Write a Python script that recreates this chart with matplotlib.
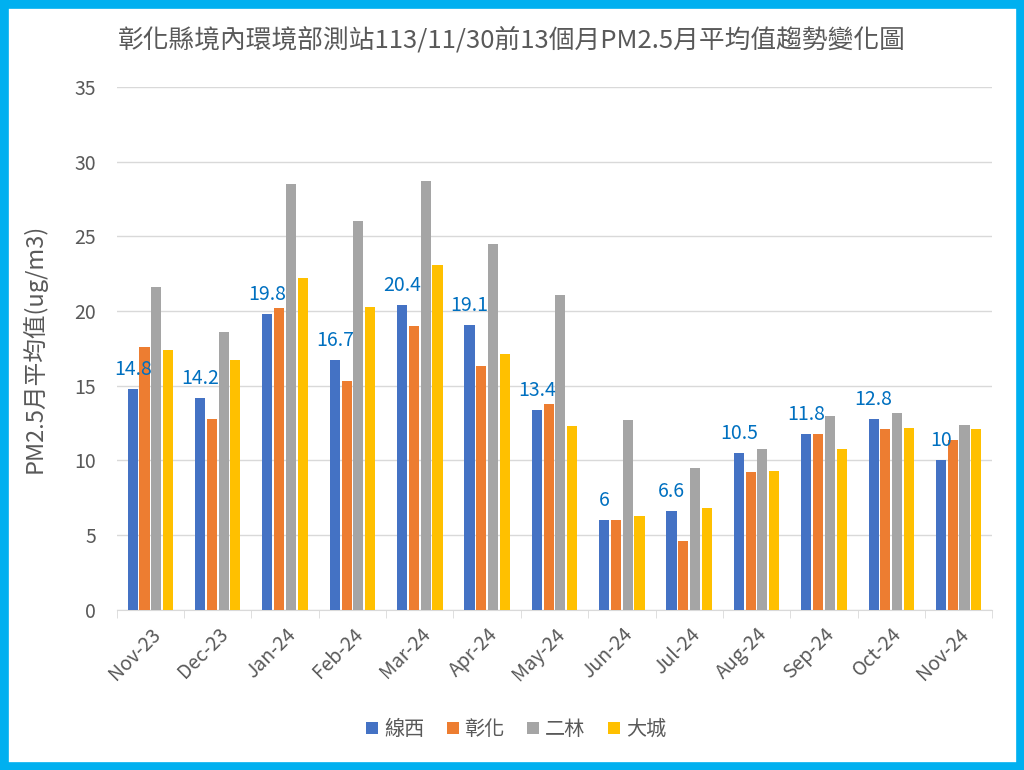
import matplotlib
matplotlib.use('Agg')
import matplotlib.pyplot as plt
import numpy as np
from matplotlib.patches import Rectangle

plt.rcParams['font.family'] = ['Noto Sans CJK TC', 'DejaVu Sans']

months = ['Nov-23', 'Dec-23', 'Jan-24', 'Feb-24', 'Mar-24', 'Apr-24', 'May-24',
          'Jun-24', 'Jul-24', 'Aug-24', 'Sep-24', 'Oct-24', 'Nov-24']
xianxi = [14.8, 14.2, 19.8, 16.7, 20.4, 19.1, 13.4, 6, 6.6, 10.5, 11.8, 12.8, 10]
changhua = [17.6, 12.8, 20.2, 15.3, 19.0, 16.3, 13.8, 6.0, 4.6, 9.2, 11.8, 12.1, 11.4]
erlin = [21.6, 18.6, 28.5, 26.0, 28.7, 24.5, 21.1, 12.7, 9.5, 10.8, 13.0, 13.2, 12.4]
dacheng = [17.4, 16.7, 22.2, 20.3, 23.1, 17.1, 12.3, 6.3, 6.8, 9.3, 10.8, 12.2, 12.1]

names = ['線西', '彰化', '二林', '大城']
colors = ['#4472C4', '#ED7D31', '#A5A5A5', '#FFC000']
series = [xianxi, changhua, erlin, dacheng]

text_grey = '#595959'

fig = plt.figure(figsize=(10.24, 7.70), dpi=100)
ax = fig.add_axes([0.114, 0.208, 0.855, 0.679])

x = np.arange(len(months))
slot = 0.175
w = 0.15
for i, (vals, c, n) in enumerate(zip(series, colors, names)):
    ax.bar(x + (i - 1.5) * slot, vals, width=w, color=c, label=n, zorder=3)

# data labels on 線西 only
for xi, v in zip(x, xianxi):
    ax.text(xi - 1.5 * slot, v + 0.6, f'{v:g}', ha='center', va='bottom',
            color='#0070C0', fontsize=14, zorder=4)

ax.set_xlim(-0.5, len(months) - 0.5)
ax.set_ylim(0, 35)
ax.set_yticks(range(0, 36, 5))
ax.yaxis.grid(True, color='#D9D9D9', linewidth=1)
ax.set_axisbelow(True)
for s in ['top', 'right', 'left']:
    ax.spines[s].set_visible(False)
ax.spines['bottom'].set_color('#D9D9D9')
ax.tick_params(axis='y', length=0, labelsize=14, labelcolor=text_grey, pad=15)

ax.set_xticks(x)
ax.set_xticklabels(months, rotation=45, ha='right', rotation_mode='anchor',
                   fontsize=14, color=text_grey)
ax.tick_params(axis='x', length=0, pad=10)
ax.set_xticks(np.arange(-0.5, len(months)), minor=True)
ax.tick_params(axis='x', which='minor', length=6, color='#D9D9D9')

ax.set_ylabel('PM2.5月平均值(ug/m3)', fontsize=17, color=text_grey, labelpad=20)

fig.text(0.5, 0.948, '彰化縣境內環境部測站113/11/30前13個月PM2.5月平均值趨勢變化圖',
         ha='center', va='center', fontsize=18.5, color=text_grey)

ax.legend(loc='center', bbox_to_anchor=(0.456, -0.229), ncol=4, frameon=False,
          fontsize=14.5, handlelength=0.6, handleheight=0.6, handletextpad=0.3,
          columnspacing=1.1, labelcolor=text_grey)

fig.patches.append(Rectangle((0, 0), 1, 1, transform=fig.transFigure, fill=False,
                             edgecolor='#00B0F0', linewidth=12))

fig.savefig('out.png', dpi=100)
